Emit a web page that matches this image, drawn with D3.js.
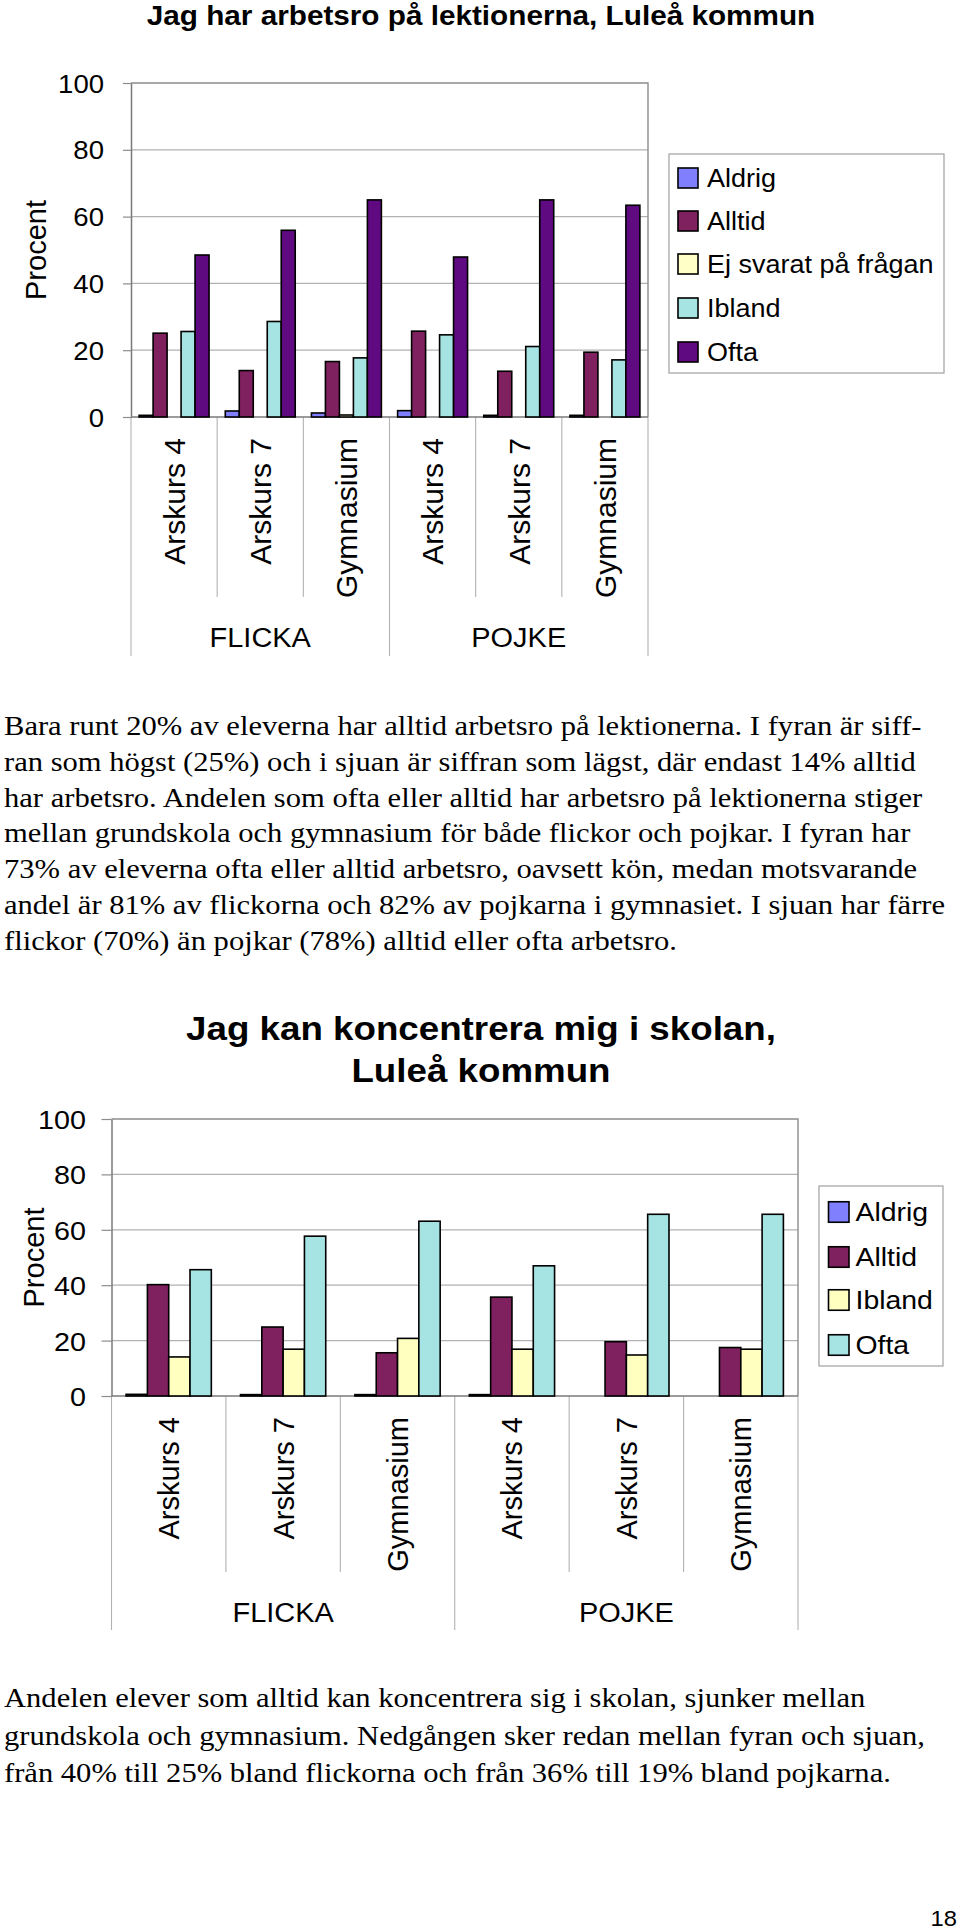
<!DOCTYPE html>
<html><head><meta charset="utf-8">
<script src="https://cdn.jsdelivr.net/npm/d3@7"></script>
<style>body{margin:0;background:#fff}svg{display:block}</style>
</head><body>
<svg id="c" width="960" height="1931"></svg>
<script>
// ---------- DATA ----------
const categories = ["Arskurs 4","Arskurs 7","Gymnasium","Arskurs 4","Arskurs 7","Gymnasium"];
const groups = ["FLICKA","POJKE"];
const yTicks = [0,20,40,60,80,100];
const axisTitle = "Procent";

const title1 = "Jag har arbetsro på lektionerna, Luleå kommun";
const series1 = ["Aldrig","Alltid","Ej svarat på frågan","Ibland","Ofta"];
const aldrig1 = [0.5, 1.8, 1.2, 1.9, 0.5, 0.5];
const alltid1 = [25.1, 13.9, 16.6, 25.7, 13.7, 19.4];
const ejSvarat1 = [0, 0, 0.6, 0, 0, 0];
const ibland1 = [25.6, 28.6, 17.7, 24.6, 21.1, 17.1];
const ofta1 = [48.5, 55.9, 65.0, 47.9, 65.0, 63.4];

const title2 = ["Jag kan koncentrera mig i skolan,", "Luleå kommun"];
const series2 = ["Aldrig","Alltid","Ibland","Ofta"];
const aldrig2 = [0.6, 0.5, 0.5, 0.5, 0, 0];
const alltid2 = [40.2, 24.9, 15.6, 35.7, 19.6, 17.5];
const ibland2 = [14.1, 16.9, 20.8, 16.9, 14.8, 16.9];
const ofta2 = [45.6, 57.7, 63.1, 47.0, 65.6, 65.6];

const para1 = [
  "Bara runt 20% av eleverna har alltid arbetsro på lektionerna. I fyran är siff-",
  "ran som högst (25%) och i sjuan är siffran som lägst, där endast 14% alltid",
  "har arbetsro. Andelen som ofta eller alltid har arbetsro på lektionerna stiger",
  "mellan grundskola och gymnasium för både flickor och pojkar. I fyran har",
  "73% av eleverna ofta eller alltid arbetsro, oavsett kön, medan motsvarande",
  "andel är 81% av flickorna och 82% av pojkarna i gymnasiet. I sjuan har färre",
  "flickor (70%) än pojkar (78%) alltid eller ofta arbetsro."
];
const para2 = [
  "Andelen elever som alltid kan koncentrera sig i skolan, sjunker mellan",
  "grundskola och gymnasium. Nedgången sker redan mellan fyran och sjuan,",
  "från 40% till 25% bland flickorna och från 36% till 19% bland pojkarna."
];
const pageNumber = "18";

// ---------- STYLE ----------
const colors1 = ["#8080ff","#80215f","#ffffc8","#a6e3e3","#5f0a80"];
const colors2 = ["#8080ff","#80215f","#ffffc0","#a6e3e3"];
const SANS = "'Liberation Sans', Arial, Helvetica, sans-serif";
const SERIF = "'Liberation Serif', 'Times New Roman', serif";
const SX = 1.08;

const svg = d3.select("#c");

function stretch(sel){
  sel.each(function(){
    const w = this.getComputedTextLength();
    d3.select(this).attr("textLength", w*SX).attr("lengthAdjust","spacingAndGlyphs");
  });
  return sel;
}

function drawChart(o){
  const g = svg.append("g");
  const x0 = d3.scaleBand().domain(d3.range(categories.length)).range([o.left, o.right]).padding(0);
  const x1 = d3.scaleBand().domain(o.series).range([0, x0.bandwidth()]).paddingInner(0).paddingOuter(o.pad);
  const y = d3.scaleLinear().domain([0,100]).range([o.zero, o.top]);

  // gridlines
  g.selectAll(null).data(yTicks.filter(t => t>0 && t<100)).join("line")
    .attr("x1", o.left).attr("x2", o.right)
    .attr("y1", d => y(d)).attr("y2", d => y(d))
    .attr("stroke", "#b2b2b2").attr("stroke-width", 1.2);
  // top & right border
  g.append("path")
    .attr("d", `M${o.left},${y(100)}H${o.right}V${y(0)}`)
    .attr("fill","none").attr("stroke","#8c8c8c").attr("stroke-width",1.4);

  // category dividers
  const bounds = d3.range(categories.length+1);
  g.selectAll(null).data(bounds).join("line")
    .attr("x1", i => o.left + i*x0.step()).attr("x2", i => o.left + i*x0.step())
    .attr("y1", y(0)).attr("y2", i => (i % 3 === 0) ? o.outerEnd : o.innerEnd)
    .attr("stroke", "#b2b2b2").attr("stroke-width", 1.1);

  // y axis
  const ax = g.append("g").attr("transform", `translate(${o.left},0)`)
    .call(d3.axisLeft(y).tickValues(yTicks).tickSize(o.tick).tickSizeOuter(0).tickPadding(o.tickPad).tickFormat(d3.format("d")));
  ax.select(".domain").attr("stroke","#7a7a7a").attr("stroke-width",1.5);
  ax.selectAll(".tick line").attr("stroke","#8c8c8c").attr("stroke-width",1.2);
  ax.selectAll(".tick text").attr("font-family", SANS).attr("font-size", o.tickFont)
    .attr("fill","#000").attr("dy","0.36em").call(stretch);

  // zero line
  g.append("line").attr("x1", o.left).attr("x2", o.right).attr("y1", y(0)).attr("y2", y(0))
    .attr("stroke","#7a7a7a").attr("stroke-width",1.5);

  // bars
  o.series.forEach((s, si) => {
    g.selectAll(null).data(o.values[si].map((v,i) => ({v,i})).filter(d => d.v > 0)).join("rect")
      .attr("x", d => x0(d.i) + x1(s)).attr("width", x1.bandwidth())
      .attr("y", d => y(d.v)).attr("height", d => y(0) - y(d.v))
      .attr("fill", o.colors[si]).attr("stroke","#000").attr("stroke-width",1.6);
  });

  // category labels (rotated)
  g.selectAll(null).data(categories).join("text")
    .attr("transform", (d,i) => `translate(${x0(i) + x0.bandwidth()/2},${y(0) + o.catGap}) rotate(-90)`)
    .attr("text-anchor","end").attr("dy","0.36em")
    .attr("font-family", SANS).attr("font-size", o.catFont).attr("fill","#000")
    .text(d => d);

  // group labels
  g.selectAll(null).data(groups).join("text")
    .attr("x", (d,i) => o.left + (i*3 + 1.5)*x0.step())
    .attr("y", o.groupBase)
    .attr("text-anchor","middle")
    .attr("font-family", SANS).attr("font-size", o.groupFont).attr("fill","#000")
    .text(d => d).call(stretch);

  // axis title
  g.append("text")
    .attr("transform", `translate(${o.procX},${(y(0)+y(100))/2}) rotate(-90)`)
    .attr("text-anchor","middle").attr("dy","0.36em")
    .attr("font-family", SANS).attr("font-size", o.procFont).attr("fill","#000")
    .text(axisTitle);

  // legend
  const L = o.legend;
  g.append("rect").attr("x", L.x0).attr("y", L.y0).attr("width", L.x1 - L.x0).attr("height", L.y1 - L.y0)
    .attr("fill","#fff").attr("stroke","#a0a0a0").attr("stroke-width",1.2);
  const items = g.selectAll(null).data(o.series).join("g")
    .attr("transform", (d,i) => `translate(0,${L.centers[i]})`);
  items.append("rect").attr("x", L.sqX).attr("y", -L.sq/2).attr("width", L.sq).attr("height", L.sq)
    .attr("fill", (d,i) => o.colors[i]).attr("stroke","#000").attr("stroke-width",1.6);
  items.append("text").attr("x", L.textX).attr("y", 0).attr("dy","0.36em")
    .attr("font-family", SANS).attr("font-size", L.font).attr("fill","#000")
    .text(d => d).call(stretch);

  // title
  g.selectAll(null).data(o.title).join("text")
    .attr("x", o.titleX).attr("y", (d,i) => o.titleBase[i])
    .attr("text-anchor","middle")
    .attr("font-family", SANS).attr("font-weight","bold").attr("font-size", o.titleFont).attr("fill","#000")
    .text(d => d).call(stretch);
}

drawChart({
  series: series1, values: [aldrig1, alltid1, ejSvarat1, ibland1, ofta1], colors: colors1,
  left: 131, right: 648, top: 83, zero: 417, pad: 0.58,
  tick: 8, tickPad: 19, tickFont: 25.5,
  innerEnd: 597, outerEnd: 656, catGap: 21, catFont: 30,
  groupBase: 646.6, groupFont: 26.8,
  procX: 36, procFont: 29,
  legend: {x0: 669, y0: 154, x1: 944, y1: 373, sqX: 678, sq: 20, centers: [178, 221, 264, 308, 352], textX: 707, font: 25},
  title: [title1], titleX: 481, titleBase: [25], titleFont: 27.5
});

drawChart({
  series: series2, values: [aldrig2, alltid2, ibland2, ofta2], colors: colors2,
  left: 111.5, right: 798, top: 1119, zero: 1396, pad: 0.685,
  tick: 10, tickPad: 15.5, tickFont: 26.6,
  innerEnd: 1572, outerEnd: 1630, catGap: 21, catFont: 29,
  groupBase: 1621.6, groupFont: 26.8,
  procX: 34, procFont: 29,
  legend: {x0: 819, y0: 1186, x1: 943, y1: 1366, sqX: 828.5, sq: 20.5, centers: [1212, 1257, 1300, 1345], textX: 855.5, font: 26.3},
  title: title2, titleX: 481, titleBase: [1040, 1082], titleFont: 34
});

// paragraphs
function drawPara(lines, base, lead){
  svg.append("g").selectAll(null).data(lines).join("text")
    .attr("x", 4).attr("y", (d,i) => base + i*lead)
    .attr("font-family", SERIF).attr("font-size", 28.3).attr("fill","#000")
    .text(d => d).call(stretch);
}
drawPara(para1, 735, 35.8);
drawPara(para2, 1707, 37.5);

// page number
svg.append("text").attr("x", 957).attr("y", 1926).attr("text-anchor","end")
  .attr("font-family", SANS).attr("font-size", 22).attr("fill","#000")
  .text(pageNumber).call(stretch);
</script>
</body></html>
